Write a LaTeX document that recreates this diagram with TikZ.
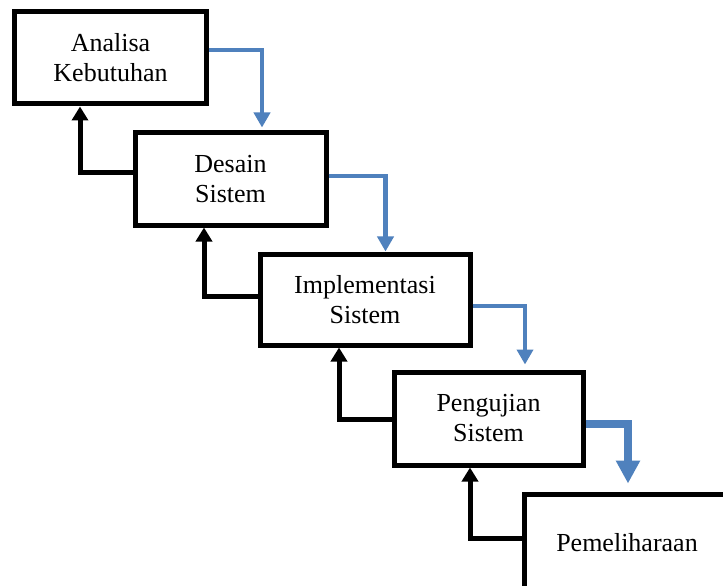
\documentclass[tikz,border=0pt]{standalone}
\usepackage{fontspec}
\setmainfont{Liberation Serif}
\usetikzlibrary{arrows.meta}
\definecolor{flowblue}{HTML}{4F81BD}
\begin{document}
\begin{tikzpicture}[x=1bp,y=-1bp,
  stage/.style={draw=black, line width=5bp, fill=white, rectangle, inner sep=0pt,
    align=center, font=\fontsize{26bp}{30bp}\selectfont},
  label/.style={inner sep=0pt, font=\fontsize{26bp}{30bp}\selectfont},
  fwd/.style={draw=flowblue, line width=4.5bp, -{Triangle[width=16bp,length=15bp]}},
  fwdbig/.style={draw=flowblue, line width=8bp, -{Triangle[width=23bp,length=23bp]}},
  back/.style={draw=black, line width=5bp, -{Triangle[width=16bp,length=14bp]}},
]
\clip (0,0) rectangle (723,586);
\fill[white] (0,0) rectangle (723,586);

% waterfall stages
\node[stage, minimum width=191bp, minimum height=92bp] (p1) at (110.5,58) {Analisa\\Kebutuhan};
\node[stage, minimum width=191bp, minimum height=92bp] (p2) at (230.5,179) {Desain\\Sistem};
\node[stage, minimum width=210bp, minimum height=91bp] (p3) at (365,299.5) {Implementasi\\Sistem};
\node[stage, minimum width=189bp, minimum height=93bp] (p4) at (488.5,418.5) {Pengujian\\Sistem};
\node[stage, minimum width=240bp, minimum height=140bp, anchor=north west] (p5) at (521.5,491.5) {};
\node[label] (t5) at (627,543) {Pemeliharaan};

% forward flow
\draw[fwd, shorten >=3bp] ([yshift=8bp]p1.east) -| ([xshift=31.5bp]p2.north);
\draw[fwd] ([yshift=3bp]p2.east) -| ([xshift=20.5bp]p3.north);
\draw[fwd, shorten >=5bp] ([yshift=-6.5bp]p3.east) -| ([xshift=36.5bp]p4.north);
\draw[fwdbig, shorten >=8bp] ([yshift=-5.5bp]p4.east) -| ([xshift=1bp]t5.north |- p5.north);

% feedback
\draw[back] ([yshift=6bp]p2.west) -| ([xshift=-30.5bp]p1.south);
\draw[back] ([yshift=3.5bp]p3.west) -| ([xshift=-26.5bp]p2.south);
\draw[back] ([yshift=-1bp]p4.west) -| ([xshift=-26bp]p3.south);
\draw[back] ([yshift=26bp]p5.west) -| ([xshift=-18.5bp]p4.south);
\end{tikzpicture}
\end{document}
